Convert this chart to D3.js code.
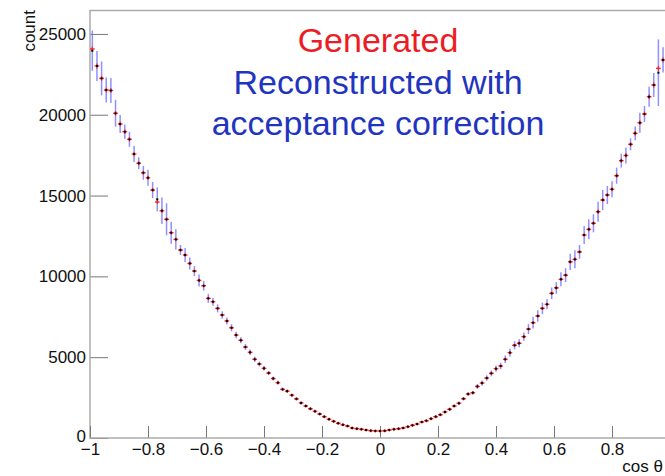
<!DOCTYPE html>
<html>
<head>
<meta charset="utf-8">
<script src="https://cdn.jsdelivr.net/npm/d3@7"></script>
<style>
  body { margin: 0; background: #fff; }
  text { font-family: "Liberation Sans", Arial, sans-serif; }
</style>
</head>
<body>
<svg width="665" height="476"></svg>
<script>
// histogram binning
const nBins = 125, xLo = -1, xHi = 1;

// generated counts per bin
const gen = [
  24070, 23020, 22250, 21530, 21500, 20090, 19430, 18950, 18480, 17570,
  17000, 16410, 16100, 15340, 14600, 14060, 13530, 12700, 12290, 11630,
  11320, 10800, 10330, 9750, 9420, 8640, 8430, 8020, 7610, 7240,
  6820, 6370, 6045, 5630, 5300, 4870, 4580, 4310, 4020, 3680,
  3420, 3010, 2900, 2650, 2420, 2170, 1980, 1810, 1650, 1485,
  1320, 1160, 1030, 910, 820, 740, 620, 575, 540, 495,
  455, 440, 430, 445, 495, 540, 575, 620, 700, 785,
  865, 990, 1070, 1195, 1320, 1440, 1610, 1775, 1980, 2150,
  2430, 2720, 2800, 3190, 3400, 3710, 4000, 4290, 4455, 4870,
  5280, 5735, 5860, 6270, 6740, 7135, 7550, 8020, 8270, 8950,
  9290, 9820, 10075, 10900, 11055, 11515, 12560, 12910, 13285, 14000,
  14725, 15035, 15390, 16230, 17160, 17480, 18170, 18850, 19505, 20045,
  21115, 21840, 22870, 23390, 24050
];

// reconstructed with acceptance correction
const rec = [
  23960, 23020, 22250, 21530, 21500, 20090, 19430, 18950, 18480, 17570,
  17000, 16410, 16100, 15340, 14770, 14060, 13530, 12700, 12290, 11630,
  11320, 10800, 10330, 9750, 9420, 8640, 8430, 8020, 7610, 7240,
  6820, 6370, 6045, 5630, 5300, 4870, 4580, 4310, 4020, 3680,
  3420, 3010, 2900, 2650, 2420, 2170, 1980, 1810, 1650, 1485,
  1320, 1160, 1030, 910, 820, 740, 620, 575, 540, 495,
  455, 440, 430, 445, 495, 540, 575, 620, 700, 785,
  865, 990, 1070, 1195, 1320, 1440, 1610, 1775, 1980, 2150,
  2430, 2720, 2800, 3190, 3400, 3710, 4000, 4290, 4455, 4870,
  5280, 5735, 5860, 6270, 6740, 7135, 7550, 8020, 8270, 8950,
  9290, 9820, 10075, 10900, 11055, 11515, 12560, 12910, 13285, 14000,
  14725, 15035, 15390, 16230, 17160, 17480, 18170, 18850, 19505, 20045,
  21115, 21840, 22600, 23390, 24050
];

const recErr = [
  1240, 930, 1050, 770, 770, 830, 560, 440, 460, 500,
  370, 430, 500, 500, 740, 820, 990, 680, 620, 310,
  430, 370, 310, 370, 300, 280, 250, 250, 230, 220,
  220, 200, 190, 180, 170, 160, 150, 140, 130, 120,
  115, 105, 100, 95, 90, 85, 80, 78, 75, 72,
  70, 68, 66, 64, 62, 60, 58, 57, 56, 55,
  55, 55, 55, 55, 56, 57, 58, 60, 62, 64,
  66, 68, 70, 72, 75, 78, 82, 86, 90, 95,
  100, 105, 110, 150, 160, 170, 180, 190, 200, 230,
  240, 250, 250, 260, 310, 360, 360, 360, 310, 360,
  360, 430, 430, 500, 560, 430, 560, 620, 560, 620,
  620, 560, 500, 500, 430, 500, 370, 430, 620, 500,
  620, 740, 2060, 780, 1500
];

const xTicks = [-1, -0.8, -0.6, -0.4, -0.2, 0, 0.2, 0.4, 0.6, 0.8];
const xTickLabels = ["\u22121", "\u22120.8", "\u22120.6", "\u22120.4", "\u22120.2", "0", "0.2", "0.4", "0.6", "0.8"];
const yTicks = [0, 5000, 10000, 15000, 20000, 25000];

const svg = d3.select("svg");

const x = d3.scaleLinear().domain([xLo, xHi]).range([90, 670]);
const y = d3.scaleLinear().domain([0, 26450]).range([438, 10.5]);

const binW = (xHi - xLo) / nBins;
const bins = d3.range(nBins).map(i => ({
  c: xLo + (i + 0.5) * binW,
  g: gen[i], r: rec[i], e: recErr[i]
}));

// frame
svg.append("line").attr("x1", 90).attr("x2", 665).attr("y1", 10.5).attr("y2", 10.5)
  .attr("stroke", "#aaa").attr("stroke-width", 1.5);

// y axis
const yMinor = d3.range(0, 26001, 1000).filter(v => v % 5000 !== 0);
const gy = svg.append("g").attr("transform", "translate(90,0)");
gy.call(d3.axisLeft(y).tickValues(yMinor).tickSize(-10).tickFormat(""));
gy.call(d3.axisLeft(y).tickValues(yTicks).tickSize(-18).tickPadding(4).tickFormat(d3.format("d")));
gy.selectAll(".domain").remove();
gy.selectAll("line").attr("stroke", "#777");
gy.selectAll("text").attr("font-size", 17).attr("fill", "#111")
  .attr("font-family", "'Liberation Sans', Arial, sans-serif")
  .attr("dy", d => d === 0 ? "0.2em" : "0.32em");
svg.append("line").attr("x1", 90).attr("x2", 90).attr("y1", 10).attr("y2", 438.5)
  .attr("stroke", "#aaa").attr("stroke-width", 1.5);

// x axis
const xMinor = d3.range(-20, 21).map(k => k * 0.05).filter(v => Math.abs(v * 5 - Math.round(v * 5)) > 1e-6);
const gx = svg.append("g").attr("transform", "translate(0,438)");
gx.call(d3.axisBottom(x).tickValues(xMinor).tickSize(-6).tickFormat(""));
gx.call(d3.axisBottom(x).tickValues(xTicks).tickSize(-12).tickPadding(5)
  .tickFormat((d, i) => xTickLabels[i]));
gx.selectAll(".domain").remove();
gx.selectAll("line").attr("stroke", "#777");
gx.selectAll("text").attr("font-size", 17).attr("fill", "#111")
  .attr("font-family", "'Liberation Sans', Arial, sans-serif");
svg.append("line").attr("x1", 89.5).attr("x2", 665).attr("y1", 438).attr("y2", 438)
  .attr("stroke", "#aaa").attr("stroke-width", 1.5);

// axis titles
svg.append("text").attr("transform", "translate(35,10) rotate(-90)")
  .attr("text-anchor", "end").attr("font-size", 17).attr("fill", "#111").text("count");
svg.append("text").attr("x", 663).attr("y", 472).attr("text-anchor", "end")
  .attr("font-size", 17).attr("fill", "#111").text("cos \u03b8");

// reconstructed error bars
const plot = svg.append("g");
plot.selectAll("line.rec").data(bins).join("line").attr("class", "rec")
  .attr("x1", d => x(d.c)).attr("x2", d => x(d.c))
  .attr("y1", d => y(d.r - d.e)).attr("y2", d => y(d.r + d.e))
  .attr("stroke", "#6b6bff").attr("stroke-width", 1.5).attr("stroke-opacity", 0.75);

// generated: red crosses
plot.selectAll("line.genh").data(bins).join("line").attr("class", "genh")
  .attr("x1", d => x(d.c - binW / 2)).attr("x2", d => x(d.c + binW / 2))
  .attr("y1", d => y(d.g)).attr("y2", d => y(d.g))
  .attr("stroke", "#ff2020").attr("stroke-width", 1.4);
plot.selectAll("line.genv").data(bins).join("line").attr("class", "genv")
  .attr("x1", d => x(d.c)).attr("x2", d => x(d.c))
  .attr("y1", d => Math.max(y(d.g - Math.sqrt(d.g)), y(d.g) + 1.5))
  .attr("y2", d => Math.min(y(d.g + Math.sqrt(d.g)), y(d.g) - 1.5))
  .attr("stroke", "#ff2020").attr("stroke-width", 1.2);

// reconstructed markers
plot.selectAll("rect.dot").data(bins).join("rect").attr("class", "dot")
  .attr("x", d => x(d.c) - 1).attr("y", d => y(d.r) - 1)
  .attr("width", 2).attr("height", 2).attr("fill", "#000");

// legend text
const legend = [
  { t: "Generated", c: "#ec1c24", yy: 52 },
  { t: "Reconstructed with", c: "#1f35c0", yy: 93.5 },
  { t: "acceptance correction", c: "#1f35c0", yy: 135 }
];
svg.selectAll("text.leg").data(legend).join("text").attr("class", "leg")
  .attr("x", 378).attr("y", d => d.yy).attr("text-anchor", "middle")
  .attr("font-size", 34).attr("fill", d => d.c).text(d => d.t);
</script>
</body>
</html>
